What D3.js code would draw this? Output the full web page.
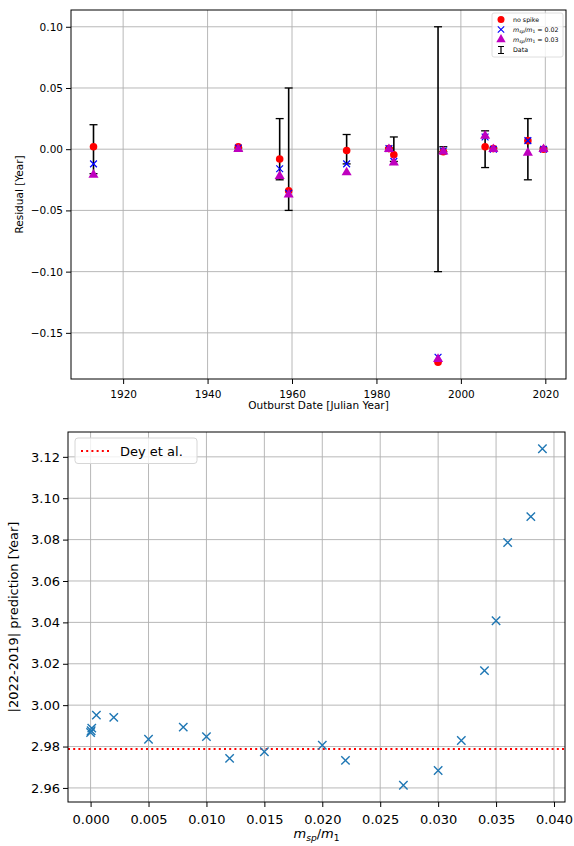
<!DOCTYPE html>
<html>
<head>
<meta charset="utf-8">
<script src="https://cdn.jsdelivr.net/npm/d3@7"></script>
<style>
body { margin: 0; background: #fff; }
svg { font-family: "DejaVu Sans", sans-serif; }
.grid line { stroke: #b0b0b0; stroke-width: 0.9; }
</style>
</head>
<body>
<svg id="chart" width="574" height="846"></svg>
<script>
// top panel: residuals per outburst
var years    = [1912.98, 1947.28, 1957.08, 1959.21, 1972.94, 1982.96, 1984.12, 1994.59, 1995.84, 2005.74, 2007.69, 2015.87, 2019.57];
var noSpike  = [0.002, 0.002, -0.008, -0.034, -0.001, 0.0005, -0.0045, -0.174, -0.002, 0.002, 0.0005, 0.007, 0.0];
var ms002    = [-0.012, 0.001, -0.016, -0.036, -0.012, 0.0005, -0.010, -0.170, -0.0015, 0.010, 0.0, 0.007, 0.0];
var ms003    = [-0.021, 0.0, -0.022, -0.037, -0.019, 0.0, -0.011, -0.1715, -0.002, 0.011, 0.0, -0.003, 0.0];
var dataErr  = [0.02, 0.001, 0.025, 0.05, 0.012, 0.001, 0.01, 0.1, 0.002, 0.015, 0.001, 0.025, 0.001];
var topXTicks = [1920, 1940, 1960, 1980, 2000, 2020];
var topYTicks = [0.10, 0.05, 0.00, -0.05, -0.10, -0.15];

// bottom panel: prediction vs spike mass
var massRatio  = [0, 0.00005, 0.0001, 0.0005, 0.002, 0.005, 0.008, 0.010, 0.012, 0.015, 0.020, 0.022, 0.027, 0.030, 0.032, 0.034, 0.035, 0.036, 0.038, 0.039];
var prediction = [2.9868, 2.9876, 2.9889, 2.9952, 2.9941, 2.9835, 2.9894, 2.9848, 2.9743, 2.9775, 2.9806, 2.9733, 2.9613, 2.9684, 2.9829, 3.0167, 3.0408, 3.0786, 3.0911, 3.1239];
var deyValue = 2.9788;
var botXTicks = [0.000, 0.005, 0.010, 0.015, 0.020, 0.025, 0.030, 0.035, 0.040];
var botYTicks = [2.96, 2.98, 3.00, 3.02, 3.04, 3.06, 3.08, 3.10, 3.12];

const svg = d3.select("#chart");
const minus = s => s.replace("-", "\u2212");

function drawFrame(g, w, h, x, y, xt, yt, xfmt, yfmt, fs) {
  g.append("g").attr("class", "grid")
    .selectAll("line.v").data(xt).enter().append("line")
    .attr("x1", d => x(d)).attr("x2", d => x(d)).attr("y1", 0).attr("y2", h);
  g.append("g").attr("class", "grid")
    .selectAll("line.h").data(yt).enter().append("line")
    .attr("y1", d => y(d)).attr("y2", d => y(d)).attr("x1", 0).attr("x2", w);

  const ax = g.append("g").attr("transform", `translate(0,${h})`)
    .call(d3.axisBottom(x).tickValues(xt).tickFormat(xfmt).tickSize(5).tickSizeOuter(0));
  const ay = g.append("g")
    .call(d3.axisLeft(y).tickValues(yt).tickFormat(yfmt).tickSize(5).tickSizeOuter(0));
  [ax, ay].forEach(a => {
    a.select(".domain").remove();
    a.selectAll("text").style("font-size", fs + "px").style("font-family", "DejaVu Sans").attr("fill", "#000");
    a.selectAll("line").attr("stroke", "#000").attr("stroke-width", 1);
  });
  ax.selectAll("text").attr("dy", "1.05em");
  ay.selectAll("text").attr("x", -8);
}

// ---------- top panel ----------
const t = {left: 71, top: 10, right: 566, bottom: 379};
const tw = t.right - t.left, th = t.bottom - t.top;
const gt = svg.append("g").attr("transform", `translate(${t.left},${t.top})`);
const xt = d3.scaleLinear().domain([1907.65, 2024.9]).range([0, tw]);
const yt = d3.scaleLinear().domain([-0.1877, 0.1137]).range([th, 0]);

drawFrame(gt, tw, th, xt, yt, topXTicks, topYTicks, d3.format("d"), d => minus(d3.format(".2f")(d)), 10.5);

// error bars (Data)
const eb = gt.append("g").selectAll("g").data(years).enter().append("g");
eb.append("line").attr("x1", d => xt(d)).attr("x2", d => xt(d))
  .attr("y1", (d, i) => yt(dataErr[i])).attr("y2", (d, i) => yt(-dataErr[i]))
  .attr("stroke", "#000").attr("stroke-width", 1.6);
[1, -1].forEach(s => {
  eb.append("line").attr("x1", d => xt(d) - 4).attr("x2", d => xt(d) + 4)
    .attr("y1", (d, i) => yt(s * dataErr[i])).attr("y2", (d, i) => yt(s * dataErr[i]))
    .attr("stroke", "#000").attr("stroke-width", 1.3);
});

// no spike
gt.append("g").selectAll("circle").data(years).enter().append("circle")
  .attr("cx", d => xt(d)).attr("cy", (d, i) => yt(noSpike[i])).attr("r", 3.8).attr("fill", "#ff0000");
// m_sp/m_1 = 0.02
const crossPath = s => `M${-s},${-s}L${s},${s}M${-s},${s}L${s},${-s}`;
gt.append("g").selectAll("path").data(years).enter().append("path")
  .attr("transform", (d, i) => `translate(${xt(d)},${yt(ms002[i])})`)
  .attr("d", crossPath(3.4)).attr("stroke", "#0000ff").attr("stroke-width", 1.2).attr("fill", "none");
// m_sp/m_1 = 0.03
const tri = d3.symbol().type(d3.symbolTriangle).size(44);
gt.append("g").selectAll("path").data(years).enter().append("path")
  .attr("transform", (d, i) => `translate(${xt(d)},${yt(ms003[i])})`)
  .attr("d", tri).attr("fill", "#bf00bf");

gt.append("rect").attr("width", tw).attr("height", th).attr("fill", "none").attr("stroke", "#000").attr("stroke-width", 1);

svg.append("text").attr("x", t.left + tw / 2).attr("y", 409).attr("text-anchor", "middle")
  .style("font-size", "10.5px").text("Outburst Date [Julian Year]");
svg.append("text").attr("transform", `translate(23,${t.top + th / 2}) rotate(-90)`).attr("text-anchor", "middle")
  .style("font-size", "10.5px").text("Residual [Year]");

// legend top
const lg = svg.append("g").attr("transform", "translate(492,13)");
lg.append("rect").attr("width", 71).attr("height", 44).attr("rx", 2).attr("fill", "#fff")
  .attr("fill-opacity", 0.8).attr("stroke", "#d6d6d6").attr("stroke-width", 0.8);
const lx = 9, ly = [6.5, 16.5, 26.5, 37];
lg.append("circle").attr("cx", lx).attr("cy", ly[0]).attr("r", 3.5).attr("fill", "#ff0000");
lg.append("path").attr("transform", `translate(${lx},${ly[1]})`).attr("d", crossPath(3.2)).attr("stroke", "#0000ff").attr("stroke-width", 1.1).attr("fill", "none");
lg.append("path").attr("transform", `translate(${lx},${ly[2]})`).attr("d", d3.symbol().type(d3.symbolTriangle).size(38)).attr("fill", "#bf00bf");
lg.append("line").attr("x1", lx).attr("x2", lx).attr("y1", ly[3] - 3.5).attr("y2", ly[3] + 3.5).attr("stroke", "#000").attr("stroke-width", 1.2);
[-3.5, 3.5].forEach(o => lg.append("line").attr("x1", lx - 3).attr("x2", lx + 3).attr("y1", ly[3] + o).attr("y2", ly[3] + o).attr("stroke", "#000").attr("stroke-width", 1));

function msLabel(g, x, y, val, fs) {
  const tx = g.append("text").attr("x", x).attr("y", y).style("font-size", fs + "px");
  tx.append("tspan").style("font-style", "italic").text("m");
  tx.append("tspan").style("font-style", "italic").style("font-size", (fs * 0.7) + "px").attr("dy", fs * 0.22).text("sp");
  tx.append("tspan").attr("dy", -fs * 0.22).text("/");
  tx.append("tspan").style("font-style", "italic").text("m");
  tx.append("tspan").style("font-size", (fs * 0.7) + "px").attr("dy", fs * 0.22).text("1");
  if (val !== null) tx.append("tspan").attr("dy", -fs * 0.22).text(" = " + val);
  return tx;
}
const lfs = 6.3;
lg.append("text").attr("x", 21).attr("y", ly[0] + 2.2).style("font-size", lfs + "px").text("no spike");
msLabel(lg, 21, ly[1] + 2.2, "0.02", lfs);
msLabel(lg, 21, ly[2] + 2.2, "0.03", lfs);
lg.append("text").attr("x", 21).attr("y", ly[3] + 2.2).style("font-size", lfs + "px").text("Data");

// ---------- bottom panel ----------
const b = {left: 68, top: 432, right: 565, bottom: 802};
const bw = b.right - b.left, bh = b.bottom - b.top;
const gb = svg.append("g").attr("transform", `translate(${b.left},${b.top})`);
const xb = d3.scaleLinear().domain([-0.00195, 0.04095]).range([0, bw]);
const yb = d3.scaleLinear().domain([2.9532, 3.1320]).range([bh, 0]);

drawFrame(gb, bw, bh, xb, yb, botXTicks, botYTicks, d3.format(".3f"), d3.format(".2f"), 13);

gb.append("line").attr("x1", 0).attr("x2", bw).attr("y1", yb(deyValue)).attr("y2", yb(deyValue))
  .attr("stroke", "#ff0000").attr("stroke-width", 2).attr("stroke-dasharray", "2,3.2");

gb.append("g").selectAll("path").data(massRatio).enter().append("path")
  .attr("transform", (d, i) => `translate(${xb(d)},${yb(prediction[i])})`)
  .attr("d", crossPath(4.2)).attr("stroke", "#1f77b4").attr("stroke-width", 1.4).attr("fill", "none");

gb.append("rect").attr("width", bw).attr("height", bh).attr("fill", "none").attr("stroke", "#000").attr("stroke-width", 1);

// legend bottom
const lb = svg.append("g").attr("transform", "translate(75,438)");
lb.append("rect").attr("width", 122).attr("height", 25.5).attr("rx", 3).attr("fill", "#fff")
  .attr("fill-opacity", 0.8).attr("stroke", "#d6d6d6").attr("stroke-width", 1);
lb.append("line").attr("x1", 6).attr("x2", 34).attr("y1", 13).attr("y2", 13)
  .attr("stroke", "#ff0000").attr("stroke-width", 2).attr("stroke-dasharray", "2,3.2");
lb.append("text").attr("x", 45).attr("y", 17.5).style("font-size", "13px").text("Dey et al.");

svg.append("text").attr("transform", `translate(18,${b.top + bh / 2}) rotate(-90)`).attr("text-anchor", "middle")
  .style("font-size", "13px").text("|2022-2019| prediction [Year]");
const xl = msLabel(svg, 0, 838, null, 13);
const xlw = xl.node().getComputedTextLength();
xl.attr("x", b.left + bw / 2 - xlw / 2);
</script>
</body>
</html>
